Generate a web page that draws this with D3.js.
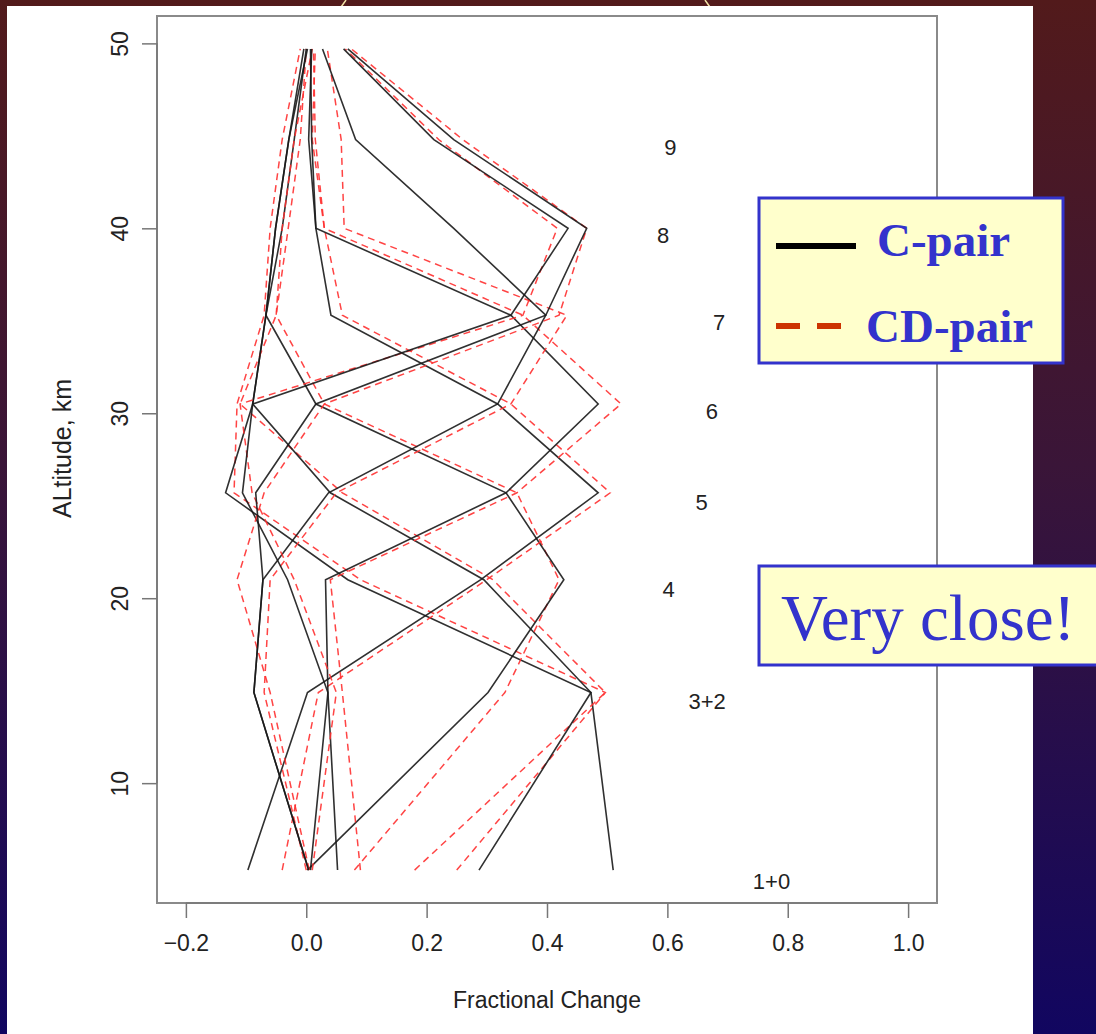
<!DOCTYPE html>
<html>
<head>
<meta charset="utf-8">
<script src="https://cdn.jsdelivr.net/npm/d3@7"></script>
<style>
  html, body { margin: 0; padding: 0; background: #2a0f3a; }
  svg { display: block; }
</style>
</head>
<body>
<div class="chart"></div>
<script>
// ---- data ----
// altitude of each profile level, km
const altitudes = [5.3, 14.9, 21.0, 25.7, 30.5, 35.3, 40.0, 44.8, 49.7]

// layer names, one profile each
const layers = ['1+0', '3+2', '4', '5', '6', '7', '8', '9']

// C-pair fractional change at each altitude (solid black)
const cPair = [
  [0.510, 0.473, 0.069, -0.134, -0.089, -0.067, -0.051, -0.029, -0.004],
  [0.287, 0.473, 0.295, 0.040, -0.089, -0.067, -0.040, -0.020, 0.000],
  [0.002, 0.302, 0.428, 0.332, 0.016, -0.067, -0.051, -0.029, 0.002],
  [-0.097, 0.002, 0.290, 0.485, 0.318, 0.041, 0.016, 0.004, 0.009],
  [0.052, 0.036, 0.032, 0.332, 0.485, 0.340, 0.016, 0.009, 0.007],
  [0.004, -0.087, -0.072, 0.037, 0.318, 0.398, 0.245, 0.082, 0.027],
  [0.007, 0.036, -0.031, -0.106, -0.089, 0.340, 0.435, 0.212, 0.062],
  [0.004, -0.087, -0.072, -0.084, 0.016, 0.398, 0.466, 0.245, 0.069]
]

// CD-pair fractional change at each altitude (dashed red)
const cdPair = [
  [0.250, 0.497, 0.090, -0.120, -0.115, -0.070, -0.060, -0.040, -0.010],
  [0.180, 0.497, 0.310, 0.060, -0.110, -0.050, -0.030, -0.010, 0.000],
  [0.080, 0.330, 0.420, 0.350, 0.030, -0.050, -0.040, -0.020, 0.010],
  [-0.040, 0.020, 0.300, 0.505, 0.340, 0.060, 0.030, 0.010, 0.015],
  [0.090, 0.060, 0.040, 0.350, 0.523, 0.360, 0.030, 0.015, 0.012],
  [0.000, -0.070, -0.060, 0.050, 0.340, 0.433, 0.063, 0.058, 0.035],
  [0.010, 0.050, -0.020, -0.090, -0.110, 0.360, 0.417, 0.220, 0.065],
  [0.005, -0.060, -0.115, -0.070, 0.030, 0.420, 0.466, 0.260, 0.075]
]

// where the layer names sit (fractional change, altitude)
const labelX = [0.773, 0.666, 0.602, 0.657, 0.674, 0.686, 0.593, 0.605]
const labelY = [4.7, 14.4, 20.5, 25.2, 30.1, 34.9, 39.6, 44.4]

const xTicks = [-0.2, 0.0, 0.2, 0.4, 0.6, 0.8, 1.0]
const yTicks = [10, 20, 30, 40, 50]

const sans = '"Liberation Sans", Arial, Helvetica, sans-serif'
const serif = '"Liberation Serif", "Times New Roman", serif'

// ---- layout ----
const W = 1096
const H = 1034
const box = { left: 157, right: 937, top: 16, bottom: 903 }

const svg = d3.select('.chart')
  .append('svg')
    .attr('width', W)
    .attr('height', H)

const defs = svg.append('defs')
const grad = defs.append('linearGradient')
    .attr('id', 'bg')
    .attr('x1', 0).attr('y1', 0)
    .attr('x2', 0).attr('y2', 1)
grad.append('stop').attr('offset', '0%').attr('stop-color', '#521a1b')
grad.append('stop').attr('offset', '45%').attr('stop-color', '#3a1538')
grad.append('stop').attr('offset', '100%').attr('stop-color', '#110660')

svg.append('rect')
  .attr('width', W)
  .attr('height', H)
  .attr('fill', 'url(#bg)')

// bits of the slide decoration peeking in at the top
svg.append('path')
  .attr('d', 'M346,0 Q341,8 334,15')
  .attr('fill', 'none')
  .attr('stroke', '#f3e3a6')
  .attr('stroke-width', 1.5)
svg.append('path')
  .attr('d', 'M705,0 Q710,8 717,15')
  .attr('fill', 'none')
  .attr('stroke', '#f3e3a6')
  .attr('stroke-width', 1.5)

// white panel holding the R plot
svg.append('rect')
  .attr('x', 7)
  .attr('y', 6)
  .attr('width', 1026)
  .attr('height', H - 6)
  .attr('fill', '#ffffff')

const xScale = d3.scaleLinear()
  .domain([-0.248, 1.048])
  .range([box.left, box.right])

const yScale = d3.scaleLinear()
  .domain([3.52, 51.48])
  .range([box.bottom, box.top]) // altitude grows upward

// ---- profiles ----
const line = d3.line()
  .x(d => xScale(d[0]))
  .y(d => yScale(d[1]))

const plot = svg.append('g')

layers.forEach((name, i) => {
  plot.append('path')
    .datum(cdPair[i].map((v, j) => [v, altitudes[j]]))
    .attr('d', line)
    .attr('fill', 'none')
    .attr('stroke', '#ff3030')
    .attr('stroke-width', 1.5)
    .attr('stroke-dasharray', '7,5')
    .attr('stroke-opacity', 0.9)

  plot.append('path')
    .datum(cPair[i].map((v, j) => [v, altitudes[j]]))
    .attr('d', line)
    .attr('fill', 'none')
    .attr('stroke', '#1a1a1a')
    .attr('stroke-width', 1.6)
    .attr('stroke-opacity', 0.9)
})

// layer names
svg.append('g').selectAll('text')
  .data(layers)
  .join('text')
    .attr('x', (d, i) => xScale(labelX[i]))
    .attr('y', (d, i) => yScale(labelY[i]))
    .attr('dy', '0.35em')
    .attr('text-anchor', 'middle')
    .attr('font-family', sans)
    .attr('font-size', 22)
    .attr('fill', '#222')
    .text(d => d)

// ---- box and axes ----
svg.append('rect')
  .attr('x', box.left)
  .attr('y', box.top)
  .attr('width', box.right - box.left)
  .attr('height', box.bottom - box.top)
  .attr('fill', 'none')
  .attr('stroke', '#8a8a8a')
  .attr('stroke-width', 2)

const xAxis = d3.axisBottom(xScale)
  .tickValues(xTicks)
  .tickSize(15)
  .tickPadding(17)
  .tickFormat(d3.format('.1f'))

const gx = svg.append('g')
  .attr('transform', `translate(0, ${box.bottom})`)
  .call(xAxis)
gx.select('.domain')
  .attr('d', `M${xScale(-0.2)},0H${xScale(1.0)}`)

const yAxis = d3.axisLeft(yScale)
  .tickValues(yTicks)
  .tickSize(15)

const gy = svg.append('g')
  .attr('transform', `translate(${box.left}, 0)`)
  .call(yAxis)
gy.select('.domain')
  .attr('d', `M0,${yScale(10)}V${yScale(50)}`)

// R writes the y tick labels turned on their side
gy.selectAll('.tick text')
  .attr('x', 0)
  .attr('y', 0)
  .attr('dy', 0)
  .attr('text-anchor', 'middle')
  .attr('transform', 'translate(-29, 0) rotate(-90)')

svg.selectAll('.domain, .tick line')
  .attr('stroke', '#777')
  .attr('stroke-width', 1.5)
svg.selectAll('.tick text')
  .attr('font-size', 23)
  .attr('font-family', sans)
  .attr('fill', '#222')

svg.append('text')
  .attr('x', (box.left + box.right) / 2)
  .attr('y', 1008)
  .attr('text-anchor', 'middle')
  .attr('font-family', sans)
  .attr('font-size', 23)
  .attr('fill', '#222')
  .text('Fractional Change')

svg.append('text')
  .attr('transform', `translate(71, ${(box.top + box.bottom) / 2 - 11}) rotate(-90)`)
  .attr('text-anchor', 'middle')
  .attr('font-family', sans)
  .attr('font-size', 25)
  .attr('fill', '#222')
  .text('ALtitude, km')

// ---- slide call-outs ----
const callout = svg.append('g')
  .attr('font-family', serif)
  .attr('fill', '#3333cc')

callout.append('rect')
  .attr('x', 759)
  .attr('y', 198)
  .attr('width', 304)
  .attr('height', 165)
  .attr('fill', '#ffffcc')
  .attr('stroke', '#3333cc')
  .attr('stroke-width', 3)

callout.append('line')
  .attr('x1', 776).attr('x2', 856)
  .attr('y1', 246).attr('y2', 246)
  .attr('stroke', '#000')
  .attr('stroke-width', 6)

callout.append('line')
  .attr('x1', 776).attr('x2', 842)
  .attr('y1', 326).attr('y2', 326)
  .attr('stroke', '#cc3300')
  .attr('stroke-width', 6)
  .attr('stroke-dasharray', '24,17')

callout.append('text')
  .attr('x', 877)
  .attr('y', 256)
  .attr('font-size', 47)
  .attr('font-weight', 'bold')
  .text('C-pair')

callout.append('text')
  .attr('x', 866)
  .attr('y', 342)
  .attr('font-size', 47)
  .attr('font-weight', 'bold')
  .text('CD-pair')

callout.append('rect')
  .attr('x', 759)
  .attr('y', 566)
  .attr('width', 345)
  .attr('height', 99)
  .attr('fill', '#ffffcc')
  .attr('stroke', '#3333cc')
  .attr('stroke-width', 3)

callout.append('text')
  .attr('x', 781)
  .attr('y', 640)
  .attr('font-size', 65)
  .text('Very close!')
</script>
</body>
</html>
